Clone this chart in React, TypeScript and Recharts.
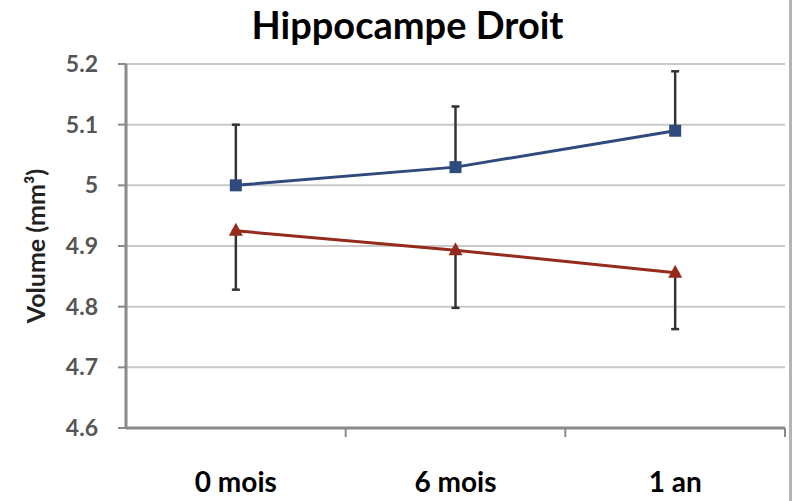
import { LineChart, Line, XAxis, YAxis, CartesianGrid, ErrorBar, ReferenceLine } from 'recharts';

const categories = ['0 mois', '6 mois', '1 an'];
const droitA = [5.0, 5.03, 5.09];
const droitAErr = [0.1, 0.1, 0.098];
const droitB = [4.925, 4.893, 4.856];
const droitBErr = [0.097, 0.095, 0.093];
const yTicks = [4.6, 4.7, 4.8, 4.9, 5.0, 5.1, 5.2];

// points sit in the middle of each category slot, tick marks on slot edges
const data = categories.map((name, i) => ({
  name,
  pos: i + 0.5,
  a: droitA[i],
  aErr: [0, droitAErr[i]],
  b: droitB[i],
  bErr: [droitBErr[i], 0],
}));

const FONT = 'Lato, "Open Sans", sans-serif';
const BLUE = '#2f4b7d';
const RED = '#952a1d';

const SquareDot = (props: any) => {
  const { cx, cy } = props;
  if (cx == null || cy == null) return null;
  return <rect x={cx - 6} y={cy - 6} width={12} height={12} fill={BLUE} />;
};

const TriangleDot = (props: any) => {
  const { cx, cy } = props;
  if (cx == null || cy == null) return null;
  return <path d={`M${cx},${cy - 8} L${cx + 7},${cy + 5} L${cx - 7},${cy + 5} Z`} fill={RED} />;
};

const XTick = (props: any) => {
  const { x, y, payload } = props;
  const label = categories[Math.floor(payload.value)];
  return (
    <text x={x} y={y} textAnchor="middle" fill="#000" fontSize={28} fontWeight={700} fontFamily={FONT}>
      {label}
    </text>
  );
};

export default function App() {
  return (
    <div style={{ position: 'absolute', left: 0, top: 0, width: 795, height: 501, background: '#fff' }}>
      <div
        style={{
          position: 'absolute',
          left: 0,
          top: 0,
          width: 815,
          textAlign: 'center',
          fontFamily: FONT,
          fontWeight: 700,
          fontSize: 38,
          lineHeight: '48px',
          color: '#000',
        }}
      >
        Hippocampe Droit
      </div>
      <div style={{ position: 'absolute', left: 789, top: 0, width: 3, height: 501, background: '#b4b4b4' }} />
      <LineChart width={795} height={501} data={data} margin={{ top: 64, right: 10, bottom: 0, left: 0 }}>
        <CartesianGrid vertical={false} stroke="#c9c9c9" strokeWidth={2} />
        <XAxis
          dataKey="pos"
          type="number"
          domain={[0, 3]}
          ticks={[0.5, 1.5, 2.5]}
          height={73}
          axisLine={{ stroke: '#8a8a8a', strokeWidth: 3 }}
          tickLine={false}
          tickSize={0}
          tickMargin={64}
          tick={<XTick />}
          interval={0}
        />
        <YAxis
          domain={[4.6, 5.2]}
          ticks={yTicks}
          width={126}
          allowDataOverflow
          axisLine={{ stroke: '#8a8a8a', strokeWidth: 3 }}
          tickLine={{ stroke: '#8a8a8a', strokeWidth: 2 }}
          tickSize={8}
          tickMargin={20}
          tickFormatter={(v: number) => (v === 5 ? '5' : v.toFixed(1))}
          tick={{ fill: '#555', fontSize: 23, fontWeight: 700, fontFamily: FONT }}
          label={{
            value: 'Volume (mm³)',
            angle: -90,
            position: 'insideLeft',
            offset: 36,
            style: { textAnchor: 'middle', fill: '#222', fontSize: 25, fontWeight: 700, fontFamily: FONT },
          }}
        />
        {[1, 2, 3].map((t) => (
          <ReferenceLine
            key={t}
            ifOverflow="visible"
            segment={[{ x: t, y: 4.6 }, { x: t, y: 4.585 }]}
            stroke="#8a8a8a"
            strokeWidth={2}
          />
        ))}
        <Line
          dataKey="b"
          stroke={RED}
          strokeWidth={3}
          dot={<TriangleDot />}
          activeDot={false}
          isAnimationActive={false}
        >
          <ErrorBar dataKey="bErr" direction="y" width={4} stroke="#333" strokeWidth={2.5} />
        </Line>
        <Line
          dataKey="a"
          stroke={BLUE}
          strokeWidth={3}
          dot={<SquareDot />}
          activeDot={false}
          isAnimationActive={false}
        >
          <ErrorBar dataKey="aErr" direction="y" width={4} stroke="#333" strokeWidth={2.5} />
        </Line>
      </LineChart>
    </div>
  );
}
